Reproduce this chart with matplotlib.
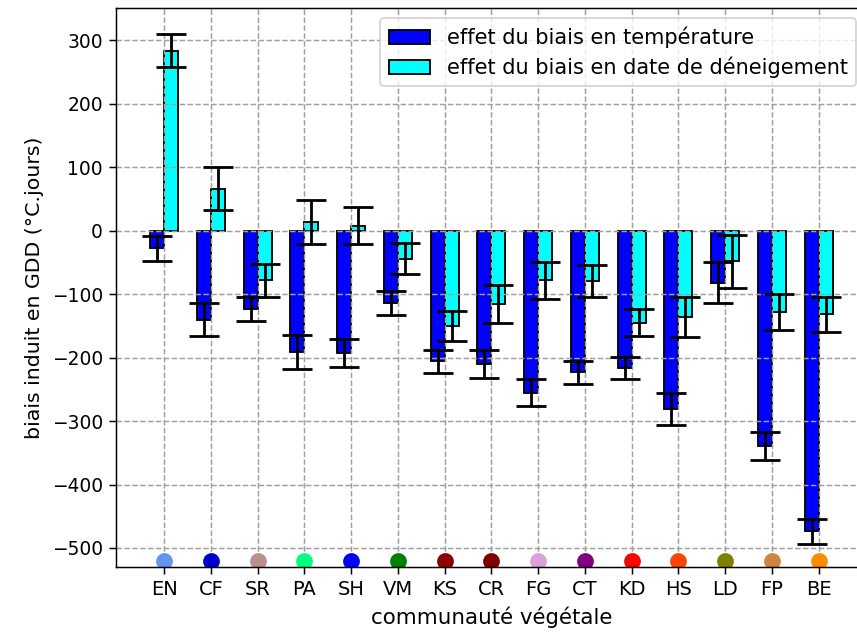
#!/usr/bin/env python3

import matplotlib
matplotlib.use('Agg')
import matplotlib.pyplot as plt
import numpy as np

# communautes vegetales
communautes = ['EN', 'CF', 'SR', 'PA', 'SH', 'VM', 'KS', 'CR',
               'FG', 'CT', 'KD', 'HS', 'LD', 'FP', 'BE']
couleurs = ['cornflowerblue', 'mediumblue', 'rosybrown', 'springgreen', 'blue',
            'green', 'darkred', 'maroon', 'plum', 'purple', 'red', 'orangered',
            'olive', 'peru', 'darkorange']

# effet du biais en temperature (moyenne, ecart)
biais_temp = [-28, -140, -124, -191, -193, -114, -206, -210,
              -255, -223, -216, -281, -82, -340, -474]
err_temp = [20, 26, 19, 27, 22, 19, 18, 22, 21, 18, 17, 25, 32, 22, 20]

# effet du biais en date de deneigement
biais_neige = [284, 66, -78, 14, 8, -44, -150, -115,
               -78, -79, -145, -136, -48, -128, -132]
err_neige = [26, 34, 26, 35, 29, 24, 24, 30, 29, 25, 21, 32, 42, 29, 27]

y_marqueurs = -520

x = np.arange(len(communautes))
largeur = 0.3

fig = plt.figure(figsize=(857 / 134, 635 / 134), dpi=134)
ax = fig.add_axes([0.1354, 0.1071, 0.876, 0.8803])

ax.bar(x, biais_temp, width=-largeur, align='edge', color='blue', edgecolor='black',
       label='effet du biais en température')
ax.bar(x, biais_neige, width=largeur, align='edge', color='cyan', edgecolor='black',
       label='effet du biais en date de déneigement')
ax.errorbar(x - largeur / 2, biais_temp, yerr=err_temp, fmt='none', ecolor='black',
            elinewidth=1.5, capsize=8, capthick=1.5)
ax.errorbar(x + largeur / 2, biais_neige, yerr=err_neige, fmt='none', ecolor='black',
            elinewidth=1.5, capsize=8, capthick=1.5)

# pastilles de couleur par communaute
for xi, c in zip(x, couleurs):
    ax.plot(xi, y_marqueurs, 'o', color=c, markersize=8)

ax.set_xticks(x)
ax.set_xticklabels(communautes, fontsize=10.5)
ax.set_xlim(-1.03, 15.03)
ax.set_ylim(-530, 351)
ax.set_yticks(np.arange(-500, 301, 100))
ax.grid(linestyle='--', color='#a0a0a0')
ax.set_xlabel('communauté végétale', fontsize=11.5)
ax.set_ylabel('biais induit en GDD (°C.jours)', fontsize=11)
ax.legend(loc='upper right', fontsize=11.2, labelspacing=0.4)

fig.savefig('out.png', dpi=134)
